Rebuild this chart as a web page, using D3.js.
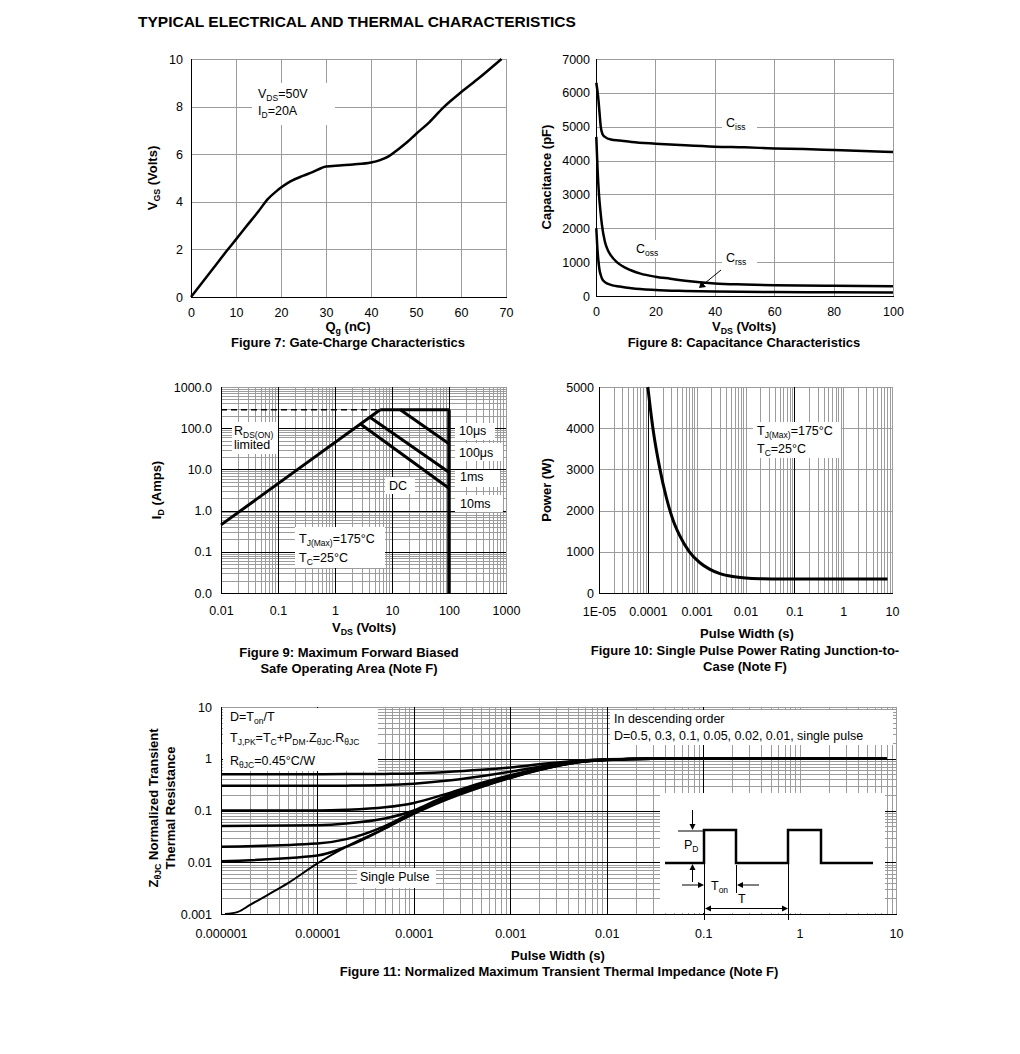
<!DOCTYPE html>
<html><head><meta charset="utf-8">
<script src="https://cdn.jsdelivr.net/npm/d3@7"></script>
<style>body{margin:0;background:#fff}svg{display:block}</style>
</head><body><svg id="c" width="1020" height="1054"></svg>
<script>
// ---------------- DATA ----------------
const pageTitle = "TYPICAL ELECTRICAL AND THERMAL CHARACTERISTICS";

// Figure 7: Gate charge
const fig7XTicks = [0,10,20,30,40,50,60,70];
const fig7YTicks = [0,2,4,6,8,10];
const fig7Qg  = [0,5,8,10,12,15,17,19,20,22,25,27,29,30,33,36,40,42,44,46,48,50,53,56,60,64,69];
const fig7Vgs = [0,1.22,1.95,2.42,2.9,3.6,4.1,4.45,4.6,4.85,5.1,5.25,5.42,5.48,5.53,5.57,5.65,5.75,5.92,6.2,6.5,6.85,7.35,7.95,8.6,9.2,10];

// Figure 8: Capacitance
const fig8XTicks = [0,20,40,60,80,100];
const fig8YTicks = [0,1000,2000,3000,4000,5000,6000,7000];
const cissV = [0.1,0.7,1.2,1.6,2.2,3,5,8,12,20,30,40,50,60,70,80,90,100];
const cissC = [6300,5900,5400,5000,4780,4700,4620,4590,4550,4500,4450,4410,4390,4360,4340,4310,4280,4250];
const cossV = [0.1,0.5,1,1.5,2,3,4,5,7,10,15,20,25,30,40,50,60,80,100];
const cossC = [4700,3800,3000,2500,2100,1600,1350,1200,1000,830,660,570,510,450,370,340,320,300,290];
const crssV = [0.1,0.4,0.8,1.2,1.6,2,3,5,8,12,20,30,40,60,80,100];
const crssC = [2000,1500,1050,760,620,520,410,330,280,230,180,150,130,115,110,100];

// Figure 9: SOA
const fig9XTicks = [0.01,0.1,1,10,100,1000];
const fig9XLabels = ["0.01","0.1","1","10","100","1000"];
const fig9YTicks = [0.01,0.1,1,10,100,1000];
const fig9YLabels = ["0.0","0.1","1.0","10.0","100.0","1000.0"];
const soaIdmDashed = [[0.01,280],[6.2,280]];
const soaRdsOn = [[0.01,0.45],[6.2,280]];
const soaIdm = [[6.2,280],[100,280]];
const soa10us = [[14,280],[100,42]];
const soa1ms = [[4.1,185],[100,8.5]];
const soaDC = [[2.8,126],[100,3.5]];
const soaVmax = [[100,280],[100,0.01]];
const soaLabels = ["10\u03bcs","100\u03bcs","1ms","10ms","DC"];

// Figure 10: Single pulse power
const fig10XTicks = [1e-5,1e-4,1e-3,1e-2,1e-1,1,10];
const fig10XLabels = ["1E-05","0.0001","0.001","0.01","0.1","1","10"];
const fig10YTicks = [0,1000,2000,3000,4000,5000];
const fig10Pw = [1e-4,1.27e-4,1.74e-4,2.38e-4,3.26e-4,4.47e-4,7.1e-4,1.15e-3,1.83e-3,3e-3,5.5e-3,1e-2,2e-2,5e-2,0.1,1,8.1];
const fig10Power = [5000,4000,3050,2330,1780,1400,1000,740,580,470,400,365,348,342,340,340,340];

// Figure 11: Transient thermal impedance
const fig11XTicks = [1e-6,1e-5,1e-4,1e-3,1e-2,1e-1,1,10];
const fig11XLabels = ["0.000001","0.00001","0.0001","0.001","0.01","0.1","1","10"];
const fig11YTicks = [0.001,0.01,0.1,1,10];
const fig11YLabels = ["0.001","0.01","0.1","1","10"];
const zthT = [1e-6,1e-5,2e-5,5e-5,1e-4,2e-4,5e-4,1e-3,2e-3,5e-3,1e-2,3e-2,8];
const zthD05  = [0.5,0.5,0.505,0.51,0.52,0.55,0.61,0.68,0.78,0.92,0.98,1,1];
const zthD03  = [0.3,0.3,0.302,0.31,0.33,0.37,0.46,0.56,0.7,0.9,0.97,1,1];
const zthD01  = [0.1,0.1,0.103,0.115,0.14,0.2,0.34,0.48,0.65,0.88,0.96,1,1];
const zthD005 = [0.05,0.052,0.056,0.07,0.1,0.18,0.32,0.46,0.63,0.87,0.96,1,1];
const zthD002 = [0.02,0.023,0.028,0.05,0.095,0.17,0.3,0.44,0.62,0.86,0.95,1,1];
const zthD001 = [0.0105,0.0135,0.02,0.045,0.09,0.16,0.29,0.43,0.61,0.86,0.95,1,1];
const zthSingleT = [1.1e-6,1.5e-6,2e-6,3e-6,5e-6,1e-5,2e-5,5e-5,1e-4,2e-4,5e-4,1e-3,2e-3,5e-3,1e-2,3e-2,8];
const zthSingle  = [0.001,0.0011,0.0015,0.0023,0.004,0.0095,0.02,0.045,0.085,0.15,0.28,0.42,0.6,0.85,0.95,1,1];

// ---------------- DRAW ----------------
const FONT = '"Liberation Sans", Arial, Helvetica, sans-serif';
const GRID = "#9c9c9c";
const FS = 12.5, FB = 13;
const svg = d3.select("#c").attr("font-family", FONT);
svg.append("rect").attr("width",1020).attr("height",1054).attr("fill","#fff");

function rich(g, x, y, parts, opt = {}) {
  const size = opt.size || (opt.bold ? FB : FS);
  const t = g.append("text").attr("x", x).attr("y", y)
    .attr("font-size", size).attr("font-family", FONT)
    .attr("font-weight", opt.bold ? "bold" : "normal")
    .attr("text-anchor", opt.anchor || "start").attr("fill", "#000");
  if (opt.transform) t.attr("transform", opt.transform);
  let shifted = false;
  parts.forEach(p => {
    const sub = Array.isArray(p);
    const ts = t.append("tspan").text(sub ? p[0] : p);
    if (sub) {
      ts.attr("font-size", size * 0.68);
      if (!shifted) { ts.attr("dy", 2.5); shifted = true; }
    } else if (shifted) { ts.attr("dy", -2.5); shifted = false; }
  });
  return t;
}
function gridLines(g, vals, scale, orient, a0, a1, color, w) {
  g.append("g").selectAll("line").data(vals).join("line")
    .attr(orient === "v" ? "x1" : "y1", d => Math.round(scale(d)) + 0.5)
    .attr(orient === "v" ? "x2" : "y2", d => Math.round(scale(d)) + 0.5)
    .attr(orient === "v" ? "y1" : "x1", a0).attr(orient === "v" ? "y2" : "x2", a1)
    .attr("stroke", color).attr("stroke-width", w || 1);
}
function logMinor(lo, hi) {
  const out = [];
  for (let e = Math.round(Math.log10(lo)); e < Math.round(Math.log10(hi)); e++)
    for (let k = 2; k <= 9; k++) out.push(k * Math.pow(10, e));
  return out;
}
function axisLabels(g, axis, tx, ty) {
  const a = g.append("g").attr("transform", `translate(${tx},${ty})`).call(axis);
  a.select(".domain").remove();
  a.selectAll(".tick line").remove();
  a.selectAll("text").attr("font-size", FS).attr("font-family", FONT).attr("fill", "#000");
}
function box(g, x, y, w, h) {
  g.append("rect").attr("x", x).attr("y", y).attr("width", w).attr("height", h).attr("fill", "#fff");
}
function frame(g, x0, x1, y0, y1) {
  g.append("line").attr("x1", x0 + 0.5).attr("x2", x0 + 0.5).attr("y1", y0).attr("y2", y1 + 1).attr("stroke", "#000");
  g.append("line").attr("x1", x0).attr("x2", x1 + 1).attr("y1", y1 + 0.5).attr("y2", y1 + 0.5).attr("stroke", "#000");
}
function curve(g, pts, x, y, w, cf) {
  g.append("path").datum(pts)
    .attr("d", d3.line().x(d => x(d[0])).y(d => y(d[1])).curve(cf || d3.curveMonotoneX))
    .attr("fill", "none").attr("stroke", "#000").attr("stroke-width", w || 2.5)
    .attr("stroke-linejoin", "round");
}
function seg(g, pts, x, y, w, dash) {
  const p = g.append("path").datum(pts)
    .attr("d", d3.line().x(d => x(d[0])).y(d => y(d[1])))
    .attr("fill", "none").attr("stroke", "#000").attr("stroke-width", w || 3);
  if (dash) p.attr("stroke-dasharray", dash);
}
const intFmt = d3.format("d");

// Title
svg.append("text").attr("x", 138).attr("y", 27).attr("font-size", 15.5).attr("font-weight", "bold")
  .attr("font-family", FONT).text(pageTitle);

// ---- Figure 7 ----
(function () {
  const X0 = 191, X1 = 506, Y0 = 59, Y1 = 297;
  const x = d3.scaleLinear().domain([0, 70]).range([X0, X1]);
  const y = d3.scaleLinear().domain([0, 10]).range([Y1, Y0]);
  const g = svg.append("g");
  gridLines(g, fig7XTicks, x, "v", Y0, Y1, GRID);
  gridLines(g, fig7YTicks, y, "h", X0, X1, GRID);
  frame(g, X0, X1, Y0, Y1);
  box(g, 252, 83, 83, 42);
  rich(g, 258, 98, ["V", ["DS"], "=50V"]);
  rich(g, 258, 115, ["I", ["D"], "=20A"]);
  curve(g, d3.zip(fig7Qg, fig7Vgs), x, y, 2.5);
  axisLabels(g, d3.axisBottom(x).tickValues(fig7XTicks).tickFormat(intFmt).tickSize(0).tickPadding(11), 0, Y1);
  axisLabels(g, d3.axisLeft(y).tickValues(fig7YTicks).tickFormat(intFmt).tickSize(0).tickPadding(8), X0, 0);
  rich(g, 348, 331, ["Q", ["g"], " (nC)"], { bold: true, anchor: "middle" });
  rich(g, 348, 347, ["Figure 7: Gate-Charge Characteristics"], { bold: true, anchor: "middle" });
  rich(g, 0, 0, ["V", ["GS"], " (Volts)"], { bold: true, anchor: "middle", transform: "translate(157,178) rotate(-90)" });
})();

// ---- Figure 8 ----
(function () {
  const X0 = 596, X1 = 893, Y0 = 59, Y1 = 296;
  const x = d3.scaleLinear().domain([0, 100]).range([X0, X1]);
  const y = d3.scaleLinear().domain([0, 7000]).range([Y1, Y0]);
  const g = svg.append("g");
  gridLines(g, fig8XTicks, x, "v", Y0, Y1, GRID);
  gridLines(g, fig8YTicks, y, "h", X0, X1, GRID);
  frame(g, X0, X1, Y0, Y1);
  box(g, 722, 115, 35, 21);
  box(g, 633, 240, 28, 18);
  box(g, 722, 250, 35, 18);
  curve(g, d3.zip(cissV, cissC), x, y, 2.5);
  curve(g, d3.zip(cossV, cossC), x, y, 2.5);
  curve(g, d3.zip(crssV, crssC), x, y, 2.5);
  rich(g, 726, 127, ["C", ["iss"]]);
  rich(g, 636, 253, ["C", ["oss"]]);
  rich(g, 726, 262, ["C", ["rss"]]);
  const ax1 = 721, ay1 = 270, ax2 = 699, ay2 = 288;
  g.append("line").attr("x1", ax1).attr("y1", ay1).attr("x2", ax2 + 3).attr("y2", ay2 - 2.5).attr("stroke", "#000").attr("stroke-width", 1);
  g.append("path").attr("d", `M${ax2},${ay2} L${ax2 + 2},${ay2 - 7} L${ax2 + 7},${ay2 - 1} Z`).attr("fill", "#000");
  axisLabels(g, d3.axisBottom(x).tickValues(fig8XTicks).tickFormat(intFmt).tickSize(0).tickPadding(11), 0, Y1);
  axisLabels(g, d3.axisLeft(y).tickValues(fig8YTicks).tickFormat(intFmt).tickSize(0).tickPadding(6), X0, 0);
  rich(g, 744, 331, ["V", ["DS"], " (Volts)"], { bold: true, anchor: "middle" });
  rich(g, 744, 347, ["Figure 8: Capacitance Characteristics"], { bold: true, anchor: "middle" });
  rich(g, 0, 0, ["Capacitance (pF)"], { bold: true, anchor: "middle", transform: "translate(551,177) rotate(-90)" });
})();

// ---- Figure 9 ----
(function () {
  const X0 = 221, X1 = 506, Y0 = 387, Y1 = 593;
  const x = d3.scaleLog().domain([0.01, 1000]).range([X0, X1]);
  const y = d3.scaleLog().domain([0.01, 1000]).range([Y1, Y0]);
  const g = svg.append("g");
  gridLines(g, logMinor(0.01, 1000), x, "v", Y0, Y1, GRID);
  gridLines(g, logMinor(0.01, 1000), y, "h", X0, X1, GRID);
  gridLines(g, [1000], x, "v", Y0, Y1, GRID);
  gridLines(g, [1000], y, "h", X0, X1, GRID);
  gridLines(g, [0.1, 1, 10, 100], x, "v", Y0, Y1, "#000");
  gridLines(g, [0.1, 1, 10, 100], y, "h", X0, X1, "#000");
  frame(g, X0, X1, Y0, Y1);
  box(g, 232, 422, 46, 32);
  box(g, 455, 423, 40, 17);
  box(g, 455, 443, 48, 18);
  box(g, 455, 470, 45, 17);
  box(g, 455, 495, 48, 17);
  box(g, 385, 477, 30, 17);
  box(g, 295, 527, 90, 41);
  seg(g, soaIdmDashed, x, y, 1.5, "6,4");
  seg(g, soaRdsOn, x, y, 3);
  seg(g, soaIdm, x, y, 3);
  seg(g, soa10us, x, y, 3);
  seg(g, soa1ms, x, y, 3);
  seg(g, soaDC, x, y, 3);
  seg(g, soaVmax, x, y, 3.5);
  rich(g, 234, 435, ["R", ["DS(ON)"]]);
  rich(g, 234, 449, ["limited"]);
  rich(g, 459, 435, [soaLabels[0]]);
  rich(g, 459, 457, [soaLabels[1]]);
  rich(g, 460, 481, [soaLabels[2]]);
  rich(g, 460, 508, [soaLabels[3]]);
  rich(g, 389, 490, [soaLabels[4]]);
  rich(g, 299, 543, ["T", ["J(Max)"], "=175\u00b0C"]);
  rich(g, 299, 562, ["T", ["C"], "=25\u00b0C"]);
  axisLabels(g, d3.axisBottom(x).tickValues(fig9XTicks).tickFormat((d, i) => fig9XLabels[i]).tickSize(0).tickPadding(13), 0, Y1);
  axisLabels(g, d3.axisLeft(y).tickValues(fig9YTicks).tickFormat((d, i) => fig9YLabels[i]).tickSize(0).tickPadding(9), X0, 0);
  rich(g, 364, 632, ["V", ["DS"], " (Volts)"], { bold: true, anchor: "middle" });
  rich(g, 349, 657, ["Figure 9: Maximum Forward Biased"], { bold: true, anchor: "middle" });
  rich(g, 349, 673, ["Safe Operating Area (Note F)"], { bold: true, anchor: "middle" });
  rich(g, 0, 0, ["I", ["D"], " (Amps)"], { bold: true, anchor: "middle", transform: "translate(161,490) rotate(-90)" });
})();

// ---- Figure 10 ----
(function () {
  const X0 = 599, X1 = 892, Y0 = 387, Y1 = 593;
  const x = d3.scaleLog().domain([1e-5, 10]).range([X0, X1]);
  const y = d3.scaleLinear().domain([0, 5000]).range([Y1, Y0]);
  const g = svg.append("g");
  gridLines(g, logMinor(1e-5, 10), x, "v", Y0, Y1, GRID);
  gridLines(g, [1e-3, 1e-2, 1, 10], x, "v", Y0, Y1, GRID);
  gridLines(g, fig10YTicks, y, "h", X0, X1, GRID);
  gridLines(g, [1e-4, 0.1], x, "v", Y0, Y1, "#000");
  frame(g, X0, X1, Y0, Y1);
  box(g, 753, 422, 88, 36);
  rich(g, 757, 435, ["T", ["J(Max)"], "=175\u00b0C"]);
  rich(g, 757, 453, ["T", ["C"], "=25\u00b0C"]);
  curve(g, d3.zip(fig10Pw, fig10Power), x, y, 3, d3.curveMonotoneX);
  axisLabels(g, d3.axisBottom(x).tickValues(fig10XTicks).tickFormat((d, i) => fig10XLabels[i]).tickSize(0).tickPadding(14), 0, Y1);
  axisLabels(g, d3.axisLeft(y).tickValues(fig10YTicks).tickFormat(intFmt).tickSize(0).tickPadding(5), X0, 0);
  rich(g, 747, 638, ["Pulse Width (s)"], { bold: true, anchor: "middle" });
  rich(g, 745, 655, ["Figure 10: Single Pulse Power Rating Junction-to-"], { bold: true, anchor: "middle" });
  rich(g, 745, 671, ["Case (Note F)"], { bold: true, anchor: "middle" });
  rich(g, 0, 0, ["Power (W)"], { bold: true, anchor: "middle", transform: "translate(551,490) rotate(-90)" });
})();

// ---- Figure 11 ----
(function () {
  const X0 = 221, X1 = 896, Y0 = 707, Y1 = 914;
  const x = d3.scaleLog().domain([1e-6, 10]).range([X0, X1]);
  const y = d3.scaleLog().domain([0.001, 10]).range([Y1, Y0]);
  const g = svg.append("g");
  gridLines(g, logMinor(1e-6, 10), x, "v", Y0, Y1, GRID);
  gridLines(g, [1, 10], x, "v", Y0, Y1, GRID);
  gridLines(g, logMinor(0.001, 10), y, "h", X0, X1, GRID);
  gridLines(g, [10], y, "h", X0, X1, GRID);
  gridLines(g, [1e-5, 1e-4, 1e-3, 1e-2, 1e-1], x, "v", Y0, Y1, "#000");
  gridLines(g, [0.01, 0.1, 1], y, "h", X0, X1, "#000");
  frame(g, X0, X1, Y0, Y1);
  box(g, 223, 708, 155, 63);
  box(g, 610, 710, 283, 35);
  box(g, 357, 868, 79, 20);
  box(g, 660, 793, 225, 120);
  rich(g, 230, 721, ["D=T", ["on"], "/T"]);
  rich(g, 230, 742, ["T", ["J,PK"], "=T", ["C"], "+P", ["DM"], ".Z", ["\u03b8JC"], ".R", ["\u03b8JC"]]);
  rich(g, 230, 765, ["R", ["\u03b8JC"], "=0.45\u00b0C/W"]);
  rich(g, 614, 723, ["In descending order"]);
  rich(g, 614, 740, ["D=0.5, 0.3, 0.1, 0.05, 0.02, 0.01, single pulse"]);
  rich(g, 360, 881, ["Single Pulse"]);
  [zthD05, zthD03, zthD01, zthD005, zthD002, zthD001].forEach(s => curve(g, d3.zip(zthT, s), x, y, 2.5));
  curve(g, d3.zip(zthSingleT, zthSingle), x, y, 2);
  const ins = g.append("g").attr("stroke", "#000").attr("fill", "none");
  ins.append("path").attr("stroke-width", 2.5)
    .attr("d", "M665,863 H704 V830 H736 V863 H788 V830 H821 V863 H873");
  ins.append("line").attr("x1", 678).attr("x2", 704).attr("y1", 831).attr("y2", 831);
  ins.append("line").attr("x1", 692.5).attr("x2", 692.5).attr("y1", 810).attr("y2", 826);
  ins.append("line").attr("x1", 692.5).attr("x2", 692.5).attr("y1", 868).attr("y2", 882);
  ins.append("line").attr("x1", 682).attr("x2", 699).attr("y1", 885).attr("y2", 885);
  ins.append("line").attr("x1", 742).attr("x2", 759).attr("y1", 885).attr("y2", 885);
  ins.append("line").attr("x1", 736.5).attr("x2", 736.5).attr("y1", 865).attr("y2", 893);
  ins.append("line").attr("x1", 704.5).attr("x2", 704.5).attr("y1", 863).attr("y2", 920);
  ins.append("line").attr("x1", 788.5).attr("x2", 788.5).attr("y1", 863).attr("y2", 920);
  ins.append("line").attr("x1", 710).attr("x2", 783).attr("y1", 908.5).attr("y2", 908.5);
  const tri = (d) => g.append("path").attr("d", d).attr("fill", "#000");
  tri("M692.5,830 L689.5,824 L695.5,824 Z");
  tri("M692.5,864 L689.5,870 L695.5,870 Z");
  tri("M704,885 L698,882 L698,888 Z");
  tri("M737,885 L743,882 L743,888 Z");
  tri("M705,908.5 L711,905.5 L711,911.5 Z");
  tri("M788,908.5 L782,905.5 L782,911.5 Z");
  rich(g, 684, 849, ["P", ["D"]]);
  rich(g, 711, 890, ["T", ["on"]]);
  rich(g, 738, 903, ["T"]);
  axisLabels(g, d3.axisBottom(x).tickValues(fig11XTicks).tickFormat((d, i) => fig11XLabels[i]).tickSize(0).tickPadding(15), 0, Y1);
  axisLabels(g, d3.axisLeft(y).tickValues(fig11YTicks).tickFormat((d, i) => fig11YLabels[i]).tickSize(0).tickPadding(9), X0, 0);
  rich(g, 558, 960, ["Pulse Width (s)"], { bold: true, anchor: "middle" });
  rich(g, 559, 976, ["Figure 11: Normalized Maximum Transient Thermal Impedance (Note F)"], { bold: true, anchor: "middle" });
  rich(g, 0, 0, ["Z", ["\u03b8JC"], " Normalized Transient"], { bold: true, anchor: "middle", transform: "translate(158,808) rotate(-90)" });
  rich(g, 0, 0, ["Thermal Resistance"], { bold: true, anchor: "middle", transform: "translate(175,808) rotate(-90)" });
})();
</script>
</body></html>
